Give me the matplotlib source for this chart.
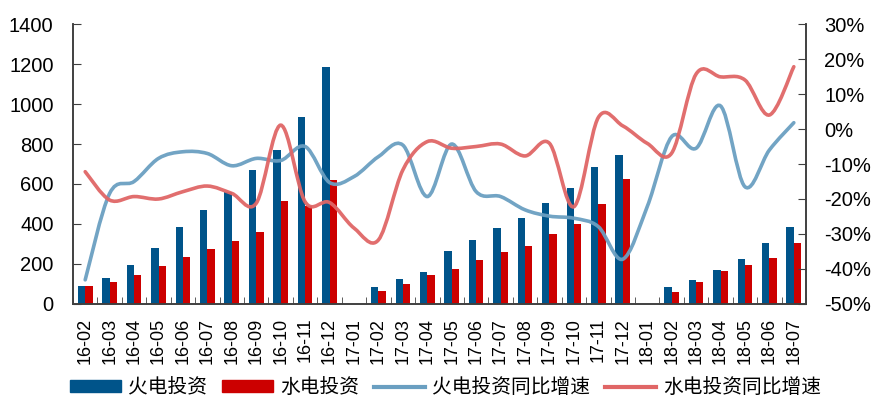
import numpy as np
import matplotlib
matplotlib.use('Agg')
import matplotlib.pyplot as plt
from matplotlib.path import Path
from matplotlib.patches import PathPatch, Patch
from matplotlib.lines import Line2D
from matplotlib.ticker import FuncFormatter

plt.rcParams['font.family'] = ['Liberation Sans', 'Noto Sans CJK SC', 'DejaVu Sans']

months = ['16-02', '16-03', '16-04', '16-05', '16-06', '16-07', '16-08', '16-09', '16-10', '16-11',
          '16-12', '17-01', '17-02', '17-03', '17-04', '17-05', '17-06', '17-07', '17-08', '17-09',
          '17-10', '17-11', '17-12', '18-01', '18-02', '18-03', '18-04', '18-05', '18-06', '18-07']

# 投资额 (亿元), 17-01 / 18-01 无数据
thermal = [90, 131, 195, 278, 387, 471, 560, 670, 771, 933,
           1183, np.nan, 87, 125, 162, 267, 318, 382, 432, 503,
           580, 683, 747, np.nan, 87, 118, 170, 227, 303, 387]
hydro = [90, 111, 143, 188, 233, 273, 317, 362, 517, 490,
         618, np.nan, 67, 98, 143, 177, 222, 258, 292, 350,
         402, 498, 625, np.nan, 60, 112, 163, 195, 228, 303]

# 同比增速 (%)
thermal_yoy = [-43.1, -18.4, -15.0, -8.4, -6.5, -7.0, -10.5, -8.4, -9.0, -5.0,
               -15.3, -13.6, -7.9, -4.6, -19.3, -4.3, -17.9, -19.3, -23.1, -24.9,
               -25.5, -27.9, -37.2, -22.2, -2.2, -5.5, 6.6, -16.5, -6.0, 1.8]
hydro_yoy = [-12.2, -20.3, -19.3, -20.0, -17.9, -16.3, -18.4, -21.2, 1.1, -20.8,
             -21.0, -28.3, -31.7, -11.7, -3.6, -5.5, -5.0, -4.3, -7.7, -4.1,
             -22.2, 3.3, 0.9, -4.1, -6.9, 15.7, 14.9, 14.0, 4.0, 17.8]

legend_labels = ['火电投资', '水电投资', '火电投资同比增速', '水电投资同比增速']

c_blue_bar = '#00548A'
c_red_bar = '#CC0000'
c_blue_line = '#6A9FC1'
c_red_line = '#E06666'
c_axis = '#404040'


def smooth_path(xs, ys):
    # Excel style smoothed line (cubic bezier through the points)
    pts = np.column_stack([xs, ys])
    n = len(pts)
    verts = [pts[0]]
    codes = [Path.MOVETO]
    for i in range(n - 1):
        p0 = pts[i - 1] if i > 0 else pts[i]
        p1 = pts[i]
        p2 = pts[i + 1]
        p3 = pts[i + 2] if i + 2 < n else pts[i + 1]
        c1 = p1 + (p2 - p0) / 6.0
        c2 = p2 - (p3 - p1) / 6.0
        verts += [c1, c2, p2]
        codes += [Path.CURVE4] * 3
    return Path(verts, codes)


fig = plt.figure(figsize=(8.73, 4.03), dpi=100)
ax = fig.add_axes([0.0836, 0.2457, 0.8397, 0.6947])
ax2 = ax.twinx()

x = np.arange(len(months))
w = 0.3
ax.bar(x - w / 2, thermal, w, color=c_blue_bar, zorder=2)
ax.bar(x + w / 2, hydro, w, color=c_red_bar, zorder=2)

ax.set_ylim(0, 1400)
ax.set_yticks(np.arange(0, 1401, 200))
ax.set_xlim(-0.5, len(months) - 0.5)
ax.set_xticks(x)
ax.set_xticklabels(months, rotation=90, fontsize=13)
ax.set_xticks(np.arange(-0.5, len(months), 1), minor=True)
ax.tick_params(axis='x', which='major', length=0, pad=10)
ax.tick_params(axis='x', which='minor', direction='in', length=5, color=c_axis)
ax.tick_params(axis='y', direction='in', length=6, color=c_axis, labelsize=14.5, pad=14)

ax2.set_ylim(-50, 30)
ax2.set_yticks(np.arange(-50, 31, 10))
ax2.yaxis.set_major_formatter(FuncFormatter(lambda v, p: '%d%%' % v))
ax2.tick_params(axis='y', direction='in', length=6, color=c_axis, labelsize=14.5, pad=13)

for a in (ax, ax2):
    a.spines['top'].set_visible(False)
    for s in ('left', 'right', 'bottom'):
        a.spines[s].set_color(c_axis)
        a.spines[s].set_linewidth(1.2)

ax2.add_patch(PathPatch(smooth_path(x, thermal_yoy), fill=False, edgecolor=c_blue_line,
                        lw=2.6, alpha=0.95, zorder=3, capstyle='round'))
ax2.add_patch(PathPatch(smooth_path(x, hydro_yoy), fill=False, edgecolor=c_red_line,
                        lw=2.6, alpha=0.95, zorder=3, capstyle='round'))

handles = [Patch(color=c_blue_bar), Patch(color=c_red_bar),
           Line2D([], [], color=c_blue_line, lw=3), Line2D([], [], color=c_red_line, lw=3)]
fig.legend(handles, legend_labels, loc='lower center', bbox_to_anchor=(0.51, -0.032), ncol=4,
           frameon=False, prop={'family': ['Noto Sans CJK SC'], 'size': 14.2},
           handlelength=2.6, handleheight=0.6, columnspacing=0.75, handletextpad=0.35)

fig.savefig('out.png', dpi=100)
